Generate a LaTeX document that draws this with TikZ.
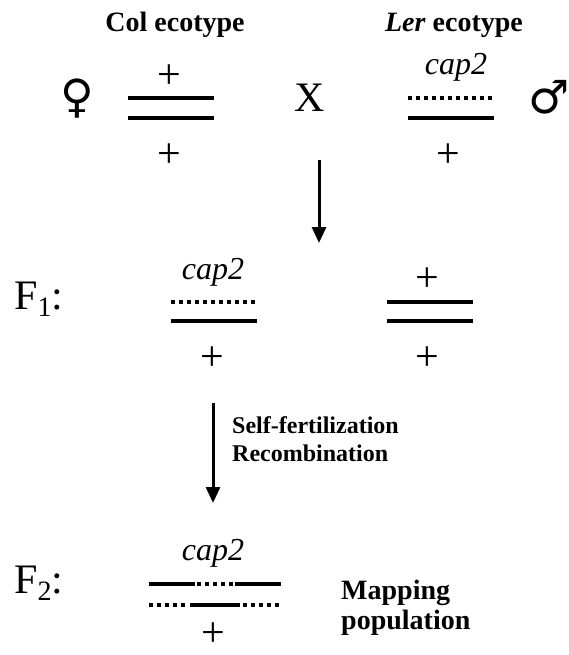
\documentclass[tikz,border=0pt]{standalone}
\usepackage{fontspec}
\setmainfont{Liberation Serif}
\newfontfamily\symfont{DejaVu Sans}
\usetikzlibrary{arrows.meta}
\begin{document}
\begin{tikzpicture}[x=1pt,y=-1pt,
  chrom/.style={line width=4pt},
  dotchrom/.style={line width=3.5pt, dash pattern=on 3.5pt off 4.5pt},
  allele/.style={font=\fontsize{42}{42}\selectfont, inner sep=0pt},
  gene/.style={font=\fontsize{32}{32}\selectfont\itshape, inner sep=0pt},
  big/.style={font=\fontsize{42}{42}\selectfont, inner sep=0pt},
  sex/.style={font=\fontsize{46}{46}\selectfont\symfont, inner sep=0pt},
  head/.style={font=\fontsize{28}{30}\selectfont\bfseries, inner sep=0pt},
  note/.style={font=\fontsize{24}{28}\selectfont\bfseries, inner sep=0pt, align=left, anchor=west},
  arr/.style={line width=3pt, -{Triangle[width=14pt,length=16pt]}}]
\useasboundingbox (0,0) rectangle (569,655);

% --- parental row ---
\node[head] (col) at (175,25) {Col ecotype};
\node[head] (ler) at (454,25) {\textit{Ler} ecotype};
\node[sex] (fem) at (77,99) {♀};
\node[sex] (male) at (549,97) {♂};
\node[big] (cross) at (310,98) {X};

\draw[chrom] (128,98) -- (214,98);
\draw[chrom] (128,118) -- (214,118);
\node[allele] (cpa) at (169,77) {+};
\node[allele] (cpb) at (169,156) {+};

\draw[dotchrom] (408,98) -- (494,98);
\draw[chrom] (408,118) -- (494,118);
\node[gene] (lcap) at (456,67) {cap2};
\node[allele] (lpb) at (448,156) {+};

\coordinate (a1s) at (319,160);
\coordinate (a1e) at (319,243);
\draw[arr] (a1s) -- (a1e);

% --- F1 row ---
\node[big, anchor=base west] (f1) at (14,309) {F\raisebox{-7pt}{\fontsize{28}{28}\selectfont 1}:};
\draw[dotchrom] (171,302) -- (257,302);
\draw[chrom] (171,321) -- (257,321);
\node[gene] (f1cap) at (213,272) {cap2};
\node[allele] (f1pa) at (212,359) {+};

\draw[chrom] (387,302) -- (473,302);
\draw[chrom] (387,321) -- (473,321);
\node[allele] (f1pb) at (427,280) {+};
\node[allele] (f1pc) at (427,359) {+};

\coordinate (a2s) at (213,403);
\coordinate (a2e) at (213,503);
\draw[arr] (a2s) -- (a2e);
\node[note] (self) at (232,425) {Self-fertilization};
\node[note] (rec) at (232,453) {Recombination};

% --- F2 row ---
\node[big, anchor=base west] (f2) at (14,593) {F\raisebox{-7pt}{\fontsize{28}{28}\selectfont 2}:};
\node[gene] (f2cap) at (213,553) {cap2};
\draw[chrom] (149,584) -- (195,584);
\draw[dotchrom] (197,584) -- (233,584);
\draw[chrom] (235,584) -- (281,584);
\draw[dotchrom] (149,605) -- (188,605);
\draw[chrom] (190,605) -- (240,605);
\draw[dotchrom] (243,605) -- (281,605);
\node[allele] (f2p) at (213,635) {+};
\node[head, align=left, anchor=west] (map) at (341,608) {Mapping\\population};
\end{tikzpicture}
\end{document}
